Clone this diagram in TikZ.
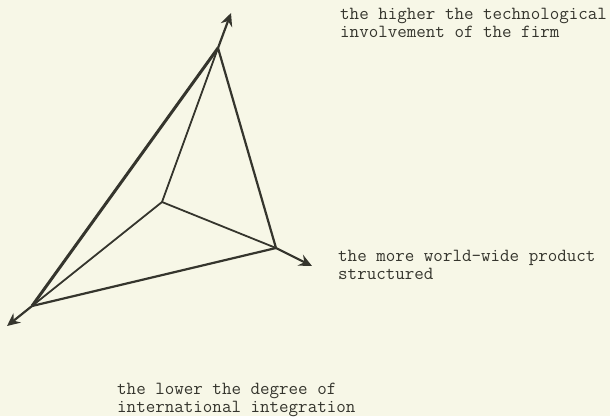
\documentclass[tikz,border=0pt]{standalone}
\usepackage{fontspec}
\usepackage{tikz}
\usetikzlibrary{arrows.meta}
\definecolor{papel}{HTML}{F7F7E7}
\definecolor{tinta}{HTML}{35352D}

\begin{document}
\begin{tikzpicture}[
    x=1pt, y=-1pt,
    >={Stealth[length=13pt, width=12pt, inset=4.5pt]},
    aresta/.style={draw=tinta, line width=2.2pt},
    interna/.style={draw=tinta, line width=1.8pt},
    eixo/.style={->, draw=tinta, line width=2.2pt},
    rotulo/.style={anchor=north west, inner sep=0pt, align=left, text=tinta,
                   font=\ttfamily\fontsize{18.5}{17.8}\selectfont}
  ]

    % --- Papel ---
    \fill[papel] (0,0) rectangle (610,416);
    \useasboundingbox (0,0) rectangle (610,416);

    % --- Vértices do tetraedro ---
    \coordinate (topo) at (218,48);
    \coordinate (dir) at (276,248);
    \coordinate (esq) at (32,306);
    \coordinate (centro) at (162,202);

    % --- Pontas dos eixos ---
    \coordinate (toposeta) at (231,13);
    \coordinate (dirseta) at (312,266);
    \coordinate (esqseta) at (7,326);

    % --- Arestas externas ---
    \draw[aresta, line width=3pt] (esq) -- (topo);
    \draw[aresta] (topo) -- (dir);
    \draw[aresta] (dir) -- (esq);

    % --- Arestas internas ---
    \draw[interna] (centro) -- (topo);
    \draw[interna] (centro) -- (dir);
    \draw[interna] (centro) -- (esq);

    % --- Eixos ---
    \draw[eixo] (topo) -- (toposeta);
    \draw[eixo] (dir) -- (dirseta);
    \draw[eixo] (esq) -- (esqseta);

    % --- Rótulos ---
    \node[rotulo] (tecnologia) at (340,8)
      {the higher the technological\\involvement of the firm};
    \node[rotulo] (produto) at (338,250)
      {the more world-wide product\\structured};
    \node[rotulo] (integracao) at (117,383)
      {the lower the degree of\\international integration};

  \end{tikzpicture}
\end{document}
